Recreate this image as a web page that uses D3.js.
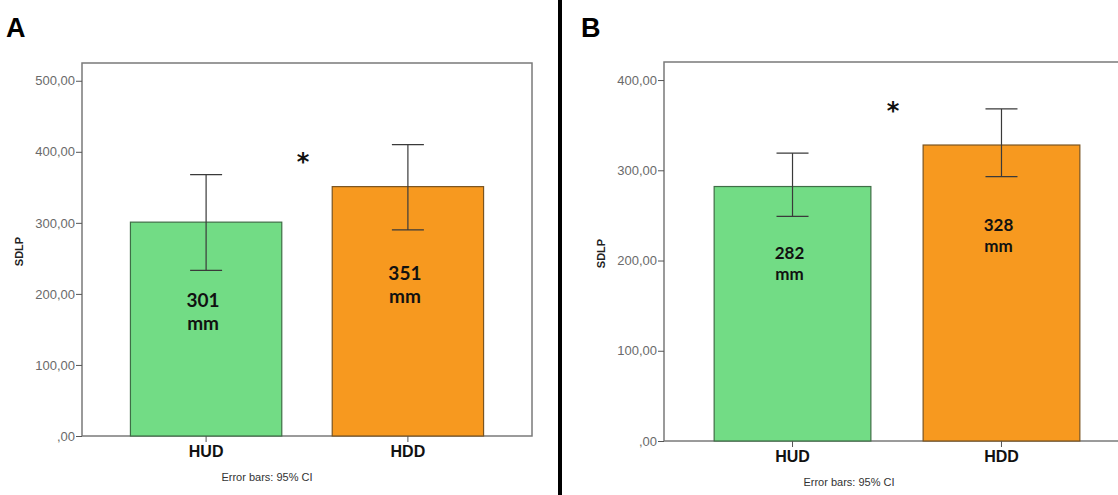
<!DOCTYPE html>
<html>
<head>
<meta charset="utf-8">
<script src="https://cdn.jsdelivr.net/npm/d3@7"></script>
<style>
  body { margin: 0; background: #fff; }
  svg { display: block; }
</style>
</head>
<body>
<div id="chart"></div>
<script>
// datos
const categorias = ["HUD", "HDD"];
const mediasA = [301, 351];
const ciBajoA = [233, 290];
const ciAltoA = [368, 410];
const etiquetasA = ["301", "351"];

const mediasB = [282, 328];
const ciBajoB = [249, 293];
const ciAltoB = [319, 368];
const etiquetasB = ["282", "328"];

const ticksA = [0, 100, 200, 300, 400, 500];
const ticksB = [0, 100, 200, 300, 400];

const colores = ["#72dc85", "#f7991f"];
const bordes = ["#3f6e46", "#7a5420"];

const svgWidth = 1118, svgHeight = 495;

const svg = d3.select("#chart")
    .append("svg")
    .attr("width", svgWidth)
    .attr("height", svgHeight);

// formato estilo SPSS: 300,00 y ,00
const locale = d3.formatLocale({ decimal: ",", thousands: ".", grouping: [3], currency: ["", ""] });
const fmt = locale.format(".2f");
const fmtTick = v => v === 0 ? ",00" : fmt(v);

function panel(cfg) {
    const g = svg.append("g");

    const x = d3.scaleBand()
        .domain(categorias)
        .range([cfg.left, cfg.right])
        .paddingInner(0.25)
        .paddingOuter(0.24);

    const y = d3.scaleLinear()
        .domain([0, cfg.ymax])
        .range([cfg.bottom, cfg.top]);

    // marco
    g.append("rect")
        .attr("x", cfg.left)
        .attr("y", cfg.top)
        .attr("width", cfg.right - cfg.left)
        .attr("height", cfg.bottom - cfg.top)
        .attr("fill", "none")
        .attr("stroke", "#7a7a7a")
        .attr("stroke-width", 1.5);

    // barras
    g.selectAll(".bar")
        .data(cfg.medias)
        .enter()
        .append("rect")
        .attr("x", (d, i) => x(categorias[i]))
        .attr("y", d => y(d))
        .attr("width", x.bandwidth())
        .attr("height", d => y(0) - y(d))
        .attr("fill", (d, i) => colores[i])
        .attr("stroke", (d, i) => bordes[i])
        .attr("stroke-width", 1.2);

    // barras de error
    const cx = i => x(categorias[i]) + x.bandwidth() / 2;
    const cap = 16;
    cfg.medias.forEach((m, i) => {
        const lo = y(cfg.ciBajo[i]), hi = y(cfg.ciAlto[i]);
        g.append("line").attr("x1", cx(i)).attr("x2", cx(i)).attr("y1", lo).attr("y2", hi)
            .attr("stroke", "#3a3a3a").attr("stroke-width", 1.2);
        g.append("line").attr("x1", cx(i) - cap).attr("x2", cx(i) + cap).attr("y1", lo).attr("y2", lo)
            .attr("stroke", "#3a3a3a").attr("stroke-width", 1.2);
        g.append("line").attr("x1", cx(i) - cap).attr("x2", cx(i) + cap).attr("y1", hi).attr("y2", hi)
            .attr("stroke", "#3a3a3a").attr("stroke-width", 1.2);

        // etiqueta de valor (dos lineas)
        const t = g.append("text")
            .attr("x", cx(i) - 3)
            .attr("y", y(m) + cfg.labelDy[i])
            .attr("text-anchor", "middle")
            .style("font-family", "Lato, sans-serif")
            .style("font-weight", "bold")
            .style("font-size", cfg.labelSize + "px")
            .attr("fill", "#111");
        t.append("tspan").attr("x", cx(i) - 3).text(cfg.etiquetas[i]);
        t.append("tspan").attr("x", cx(i) - 3).attr("dy", cfg.lineGap).text("mm");
    });

    // eje Y
    const ejeY = g.append("g")
        .attr("transform", `translate(${cfg.left}, 0)`)
        .call(d3.axisLeft(y).tickValues(cfg.ticks).tickFormat(fmtTick).tickSize(6).tickSizeOuter(0));
    ejeY.select(".domain").remove();
    ejeY.selectAll(".tick line").attr("stroke", "#555");
    ejeY.selectAll(".tick text")
        .attr("x", -7)
        .style("font-family", "Arial, 'Liberation Sans', sans-serif")
        .style("font-size", "13px")
        .attr("fill", "#6a6a6a");

    // eje X
    const ejeX = g.append("g")
        .attr("transform", `translate(0, ${cfg.bottom})`)
        .call(d3.axisBottom(x).tickSize(6).tickSizeOuter(0));
    ejeX.select(".domain").remove();
    ejeX.selectAll(".tick line").attr("stroke", "#555");
    ejeX.selectAll(".tick text")
        .attr("y", 10)
        .style("font-family", "Arial, 'Liberation Sans', sans-serif")
        .style("font-weight", "bold")
        .style("font-size", "16px")
        .attr("fill", "#111");

    // titulo eje Y
    g.append("text")
        .attr("transform", `translate(${cfg.left - 59}, ${(cfg.top + cfg.bottom) / 2 + 2}) rotate(-90)`)
        .attr("text-anchor", "middle")
        .style("font-family", "Arial, 'Liberation Sans', sans-serif")
        .style("font-weight", "bold")
        .style("font-size", "11px")
        .attr("fill", "#222")
        .text("SDLP");

    // asterisco
    g.append("text")
        .attr("x", (cx(0) + cx(1)) / 2 - 4)
        .attr("y", y(cfg.starAt))
        .attr("text-anchor", "middle")
        .attr("dominant-baseline", "central")
        .style("font-family", "'DejaVu Sans', sans-serif")
        .style("font-weight", "bold")
        .style("font-size", "24px")
        .attr("fill", "#111")
        .text("*");

    // nota
    g.append("text")
        .attr("x", cfg.left + 185)
        .attr("y", cfg.bottom + 45)
        .attr("text-anchor", "middle")
        .style("font-family", "Arial, 'Liberation Sans', sans-serif")
        .style("font-size", "11px")
        .attr("fill", "#333")
        .text("Error bars: 95% CI");

    // letra del panel
    g.append("text")
        .attr("x", cfg.letterX)
        .attr("y", 37)
        .style("font-family", "Arial, 'Liberation Sans', sans-serif")
        .style("font-weight", "bold")
        .style("font-size", "27px")
        .attr("fill", "#000")
        .text(cfg.letra);
}

panel({
    letra: "A", letterX: 6,
    left: 82, right: 532, top: 63, bottom: 436, ymax: 525,
    medias: mediasA, ciBajo: ciBajoA, ciAlto: ciAltoA, etiquetas: etiquetasA,
    ticks: ticksA, labelDy: [85, 93], labelSize: 19, lineGap: 23, starAt: 386
});

panel({
    letra: "B", letterX: 581,
    left: 664, right: 1130, top: 62, bottom: 441, ymax: 420,
    medias: mediasB, ciBajo: ciBajoB, ciAlto: ciAltoB, etiquetas: etiquetasB,
    ticks: ticksB, labelDy: [72, 86], labelSize: 17, lineGap: 21, starAt: 366
});

// separador negro entre paneles
svg.append("rect")
    .attr("x", 558)
    .attr("y", 0)
    .attr("width", 4)
    .attr("height", svgHeight)
    .attr("fill", "#000");
</script>
</body>
</html>
